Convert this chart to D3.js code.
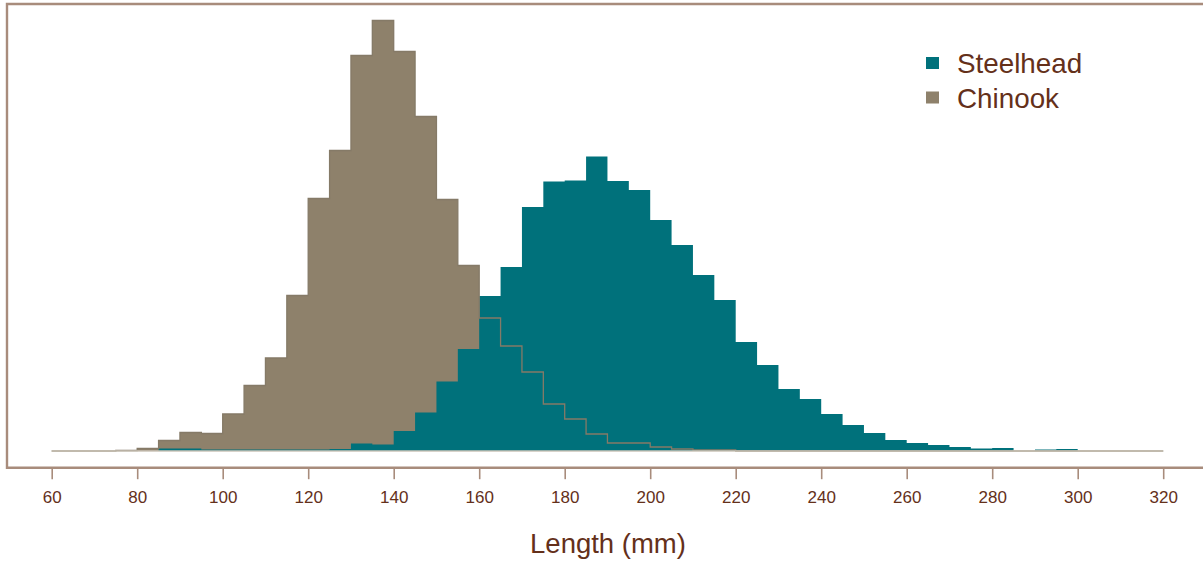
<!DOCTYPE html>
<html>
<head>
<meta charset="utf-8">
<script src="https://cdn.jsdelivr.net/npm/d3@7"></script>
<style>
  html, body { margin: 0; padding: 0; background: #fff; }
  svg { display: block; }
</style>
</head>
<body>
<div id="chart"></div>
<script>
// bin starts (mm), 5 mm bins from 60 to 320
const binStarts = d3.range(60, 320, 5)
const binWidth = 5

// counts per bin (bins 60..315)
const steelhead = [
    0, 0, 0, 0, 0, 5, 5, 3, 3, 3,
    3, 3, 3, 4, 15, 13, 40, 77, 139, 204,
    310, 368, 488, 539, 541, 589, 540, 522, 462, 412,
    352, 302, 218, 172, 124, 104, 74, 52, 36, 22,
    16, 12, 8, 5, 6, 0, 3, 4, 0, 0,
    0, 0
]
const chinook = [
    0, 0, 0, 1, 5, 21, 37, 35, 74, 131,
    186, 311, 505, 601, 791, 861, 799, 669, 503, 371,
    266, 210, 158, 94, 64, 34, 16, 16, 8, 4,
    2, 2, 0, 0, 0, 0, 0, 0, 0, 0,
    0, 0, 0, 0, 0, 0, 0, 0, 0, 0,
    0, 0
]

const xTicks = d3.range(60, 321, 20)
const legendItems = ['Steelhead', 'Chinook']

const W = 1203, H = 564
const colors = { Steelhead: '#00717b', Chinook: '#8e816b' }
const textColor = '#64301a'
const frameColor = '#a88c7c'

const svg = d3.select('#chart').append('svg')
    .attr('width', W)
    .attr('height', H)

const x = d3.scaleLinear().domain([60, 320]).range([51.7, 1163.2])
const y = d3.scaleLinear().domain([0, 900]).range([451, 1])

function steps(counts) {
    const pts = binStarts.map((b, i) => ({ x0: b, v: counts[i] }))
    pts.push({ x0: binStarts[binStarts.length - 1] + binWidth, v: counts[counts.length - 1] })
    return pts
}

const area = d3.area()
    .curve(d3.curveStepAfter)
    .x(d => x(d.x0))
    .y0(y(0))
    .y1(d => y(d.v))

const line = d3.line()
    .curve(d3.curveStepAfter)
    .x(d => x(d.x0))
    .y(d => y(d.v))

// chinook fill, steelhead over it, then chinook outline on top
svg.append('path')
    .attr('d', area(steps(chinook)))
    .attr('fill', colors.Chinook)

svg.append('path')
    .attr('d', area(steps(steelhead)))
    .attr('fill', colors.Steelhead)

svg.append('path')
    .attr('d', line(steps(chinook)))
    .attr('fill', 'none')
    .attr('stroke', '#857a67')
    .attr('stroke-width', 1.3)

// zero line under the bins
svg.append('line')
    .attr('x1', x(60)).attr('x2', x(320))
    .attr('y1', y(0)).attr('y2', y(0))
    .attr('stroke', '#cbc5b8')
    .attr('stroke-width', 1.4)

// frame, open to the right edge
const frameBottom = 467.7
svg.append('path')
    .attr('d', `M${W + 10},4 H7 V${frameBottom} H${W + 10}`)
    .attr('fill', 'none')
    .attr('stroke', frameColor)
    .attr('stroke-width', 2.4)

// x axis ticks hanging off the frame
const axis = d3.axisBottom(x)
    .tickValues(xTicks)
    .tickSize(11.5)
    .tickPadding(12)
    .tickFormat(d3.format('d'))

const gx = svg.append('g')
    .attr('transform', `translate(0,${frameBottom})`)
    .call(axis)

gx.select('.domain').remove()
gx.selectAll('.tick line')
    .attr('stroke', frameColor)
    .attr('stroke-width', 1.6)
gx.selectAll('.tick text')
    .attr('fill', textColor)
    .attr('font-family', '"Liberation Sans", Arial, sans-serif')
    .attr('font-size', 17)

svg.append('text')
    .attr('x', 608)
    .attr('y', 553)
    .attr('text-anchor', 'middle')
    .attr('fill', textColor)
    .attr('font-family', '"Liberation Sans", Arial, sans-serif')
    .attr('font-size', 27.5)
    .text('Length (mm)')

// legend
const legend = svg.append('g')
    .attr('transform', 'translate(926,57)')

const li = legend.selectAll('g')
    .data(legendItems)
    .enter()
    .append('g')
    .attr('transform', (d, i) => `translate(0,${i * 34.5})`)

li.append('rect')
    .attr('width', 13)
    .attr('height', 12)
    .attr('fill', d => colors[d])

li.append('text')
    .attr('x', 31)
    .attr('y', 16.3)
    .attr('fill', textColor)
    .attr('font-family', '"Liberation Sans", Arial, sans-serif')
    .attr('font-size', 27.8)
    .text(d => d)
</script>
</body>
</html>
